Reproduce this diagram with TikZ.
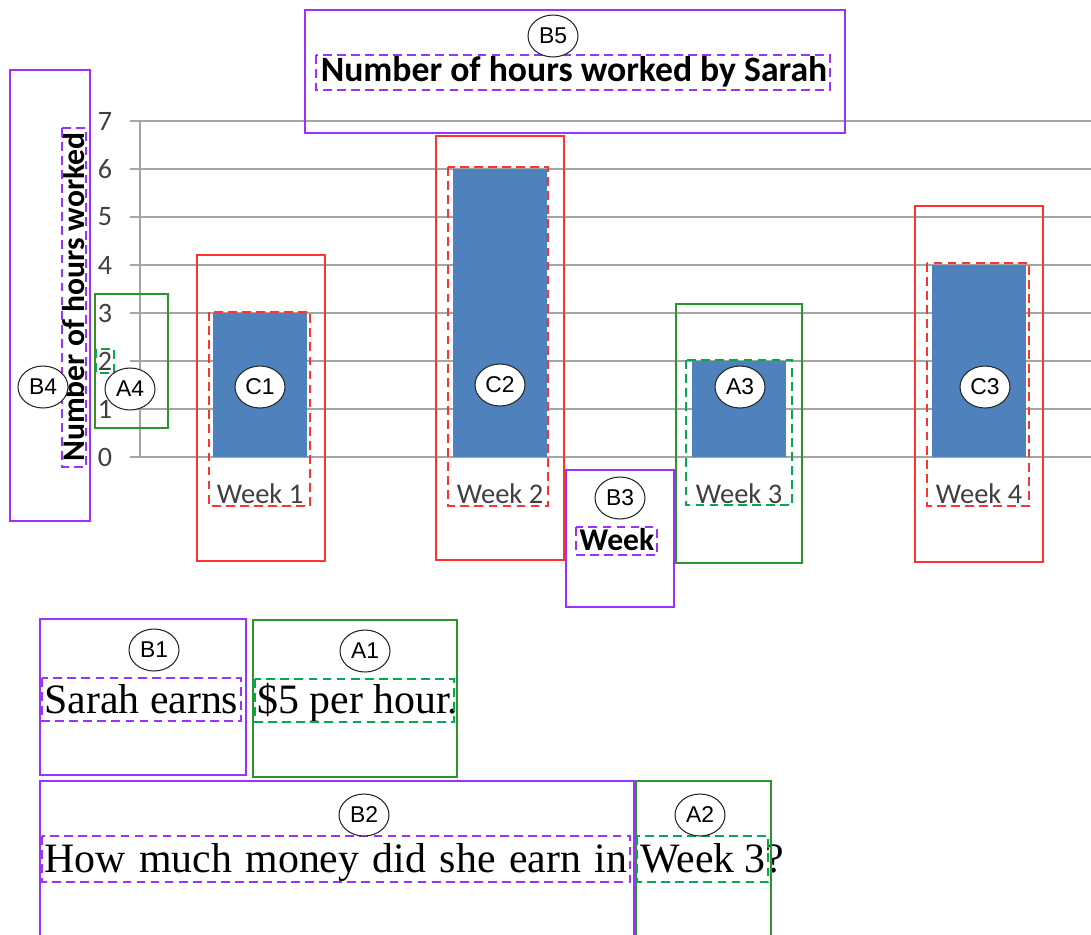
\documentclass[tikz,border=0pt]{standalone}
\usepackage{fontspec}
\setmainfont{Liberation Serif}
\newfontfamily\chartfont{Carlito}
\newfontfamily\tagfont{Liberation Sans}
\usetikzlibrary{shapes.geometric}
\definecolor{barblue}{RGB}{79,129,189}
\definecolor{boxpurple}{RGB}{155,48,255}
\definecolor{boxgreen}{RGB}{40,150,40}
\definecolor{dashgreen}{RGB}{0,170,80}
\definecolor{boxred}{RGB}{255,50,50}
\definecolor{gridgray}{RGB}{165,165,165}
\definecolor{ticktext}{RGB}{64,64,64}

\begin{document}
\begin{tikzpicture}
  [x=0.02cm,y=-0.02cm,
   tag/.style={ellipse,draw=black!85,fill=white,line width=0.6pt,inner sep=0pt,minimum width=1cm,minimum height=0.84cm,font=\tagfont\fontsize{13}{13}\selectfont},
   outerbox/.style={draw=#1,line width=1.1pt},
   innerbox/.style={draw=#1,line width=1.1pt,dash pattern=on 5pt off 3pt},
   tick/.style={text=ticktext,font=\chartfont\fontsize{16}{16}\selectfont},
   weeklabel/.style={text=ticktext,font=\chartfont\fontsize{16.2}{16}\selectfont},
   heading/.style={font=\chartfont\bfseries\fontsize{#1}{#1}\selectfont,inner sep=0pt},
   phrase/.style={font=\fontsize{23.8}{24}\selectfont,inner sep=0pt,anchor=base west}]
  \useasboundingbox (0,0) rectangle (1091,934);
  % chart grid
  \foreach \v in {0,...,7} {
    \draw[gridgray,line width=0.9pt] (130,457-48*\v) -- (1091,457-48*\v);
    \node[tick] (t\v) at (105,457-48*\v) {\v};
  }
  \draw[gridgray,line width=0.9pt] (140,121) -- (140,457);
  % bars
  \foreach \n/\x/\h in {1/260/3,2/500/6,3/739/2,4/979/4} {
    \fill[barblue] (\x-47,457) rectangle (\x+47,457-48*\h);
    \node[weeklabel] (w\n) at (\x,494) {Week \n};
  }
  \node[heading=20.3] (title) at (574,72) {Number of hours worked by Sarah};
  \node[heading=18,rotate=90] (ytitle) at (74,297) {Number of hours worked};
  \node[heading=18] (xtitle) at (617,540) {Week};
  % red boxes
  \draw[outerbox=boxred] (197,255) rectangle (325,561);
  \draw[innerbox=boxred] (209,312) rectangle (310,506);
  \draw[outerbox=boxred] (436,136) rectangle (564,560);
  \draw[innerbox=boxred] (448,167) rectangle (548,506);
  \draw[outerbox=boxred] (915,206) rectangle (1043,562);
  \draw[innerbox=boxred] (927,263) rectangle (1029,506);
  % green boxes
  \draw[outerbox=boxgreen] (676,304) rectangle (802,563);
  \draw[innerbox=dashgreen] (686,360) rectangle (792,505);
  \draw[outerbox=boxgreen] (95,294) rectangle (168,428);
  \draw[innerbox=dashgreen] (96,349) rectangle (114,373);
  % purple boxes
  \draw[outerbox=boxpurple] (566,470) rectangle (674,607);
  \draw[innerbox=boxpurple] (576,527) rectangle (657,555);
  \draw[outerbox=boxpurple] (10,70) rectangle (90,521);
  \draw[innerbox=boxpurple] (62,128) rectangle (86,467);
  \draw[outerbox=boxpurple] (305,10) rectangle (845,133);
  \draw[innerbox=boxpurple] (316,55) rectangle (830,90);
  % sentence
  \node[phrase] (s1) at (44,713) {Sarah earns};
  \node[phrase] (s2) at (257,713) {\$5 per hour.};
  \node[phrase] (s3) at (44,872) {\makebox[11.66cm][s]{How much money did she earn in}};
  \node[phrase] (s4) at (640,872) {Week 3?};
  \draw[outerbox=boxpurple] (40,619) rectangle (246,775);
  \draw[innerbox=boxpurple] (42,678) rectangle (241,721);
  \draw[outerbox=boxgreen] (253,620) rectangle (457,777);
  \draw[innerbox=dashgreen] (255,679) rectangle (454,722);
  \draw[outerbox=boxpurple] (40,781) rectangle (634,940);
  \draw[innerbox=boxpurple] (42,836) rectangle (630,882);
  \draw[outerbox=boxgreen] (636,781) rectangle (771,940);
  \draw[innerbox=dashgreen] (637,836) rectangle (768,882);
  % tags
  \foreach \name/\x/\y in {B5/553/36,B4/43/387,A4/130/389,C1/260/387,C2/500/385,
    B3/620/498,A3/740/387,C3/985/387,B1/154/650,A1/365/651,B2/364/815,A2/700/815}
    \node[tag] (\name) at (\x,\y) {\name};
\end{tikzpicture}
\end{document}
